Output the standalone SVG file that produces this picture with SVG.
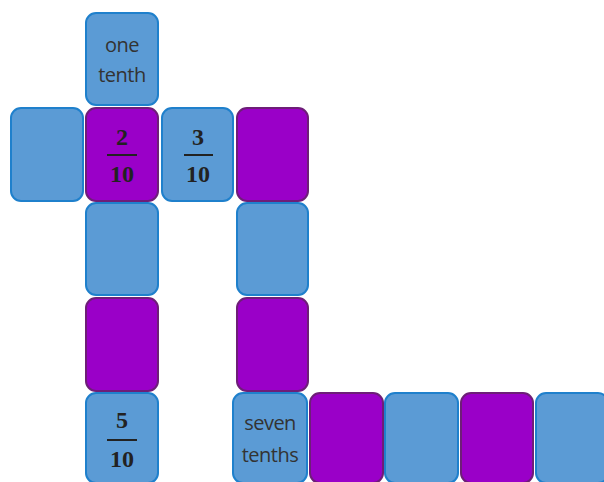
<svg xmlns="http://www.w3.org/2000/svg" width="604" height="482" viewBox="0 0 604 482">
<style>
.b{fill:#5B9BD5;stroke:#1F80CC;stroke-width:2}
.p{fill:#9A00C8;stroke:#6E1E78;stroke-width:2}
.w{font-family:"Open Sans","Liberation Sans",sans-serif;font-size:20px;fill:#333;text-anchor:middle;letter-spacing:-0.5px}
.f{font-family:"Liberation Serif","DejaVu Serif",serif;font-weight:bold;font-size:24px;fill:#222;text-anchor:middle}
.l{stroke:#222;stroke-width:2}
</style>
<rect width="604" height="482" fill="#fff"/>
<g id="t1"><rect class="b" x="86" y="13" width="72" height="92" rx="10"/><text class="w" x="122" y="52">one</text><text class="w" x="122" y="82">tenth</text></g>
<g id="t2"><rect class="b" x="11" y="108" width="72" height="93" rx="10"/></g>
<g id="t3"><rect class="p" x="86" y="108" width="72" height="93" rx="10"/><text class="f" x="122" y="145">2</text><line class="l" x1="107" y1="155" x2="137" y2="155"/><text class="f" x="122" y="182">10</text></g>
<g id="t4"><rect class="b" x="162" y="108" width="71" height="93" rx="10"/><text class="f" x="198" y="145">3</text><line class="l" x1="184" y1="155" x2="213" y2="155"/><text class="f" x="198" y="182">10</text></g>
<g id="t5"><rect class="p" x="237" y="108" width="71" height="93" rx="10"/></g>
<g id="t6"><rect class="b" x="86" y="203" width="72" height="92" rx="10"/></g>
<g id="t7"><rect class="b" x="237" y="203" width="71" height="92" rx="10"/></g>
<g id="t8"><rect class="p" x="86" y="298" width="72" height="93" rx="10"/></g>
<g id="t9"><rect class="p" x="237" y="298" width="71" height="93" rx="10"/></g>
<g id="t10"><rect class="b" x="86" y="393" width="72" height="90" rx="10"/><text class="f" x="122" y="428">5</text><line class="l" x1="107" y1="440" x2="137" y2="440"/><text class="f" x="122" y="467">10</text></g>
<g id="t11"><rect class="b" x="233" y="393" width="74" height="90" rx="10"/><text class="w" x="270" y="430">seven</text><text class="w" x="270" y="462">tenths</text></g>
<g id="t12"><rect class="p" x="310" y="393" width="73" height="90" rx="10"/></g>
<g id="t13"><rect class="b" x="385" y="393" width="73" height="90" rx="10"/></g>
<g id="t14"><rect class="p" x="461" y="393" width="72" height="90" rx="10"/></g>
<g id="t15"><rect class="b" x="536" y="393" width="72" height="90" rx="10"/></g>
<g id="connectors"></g>
</svg>
